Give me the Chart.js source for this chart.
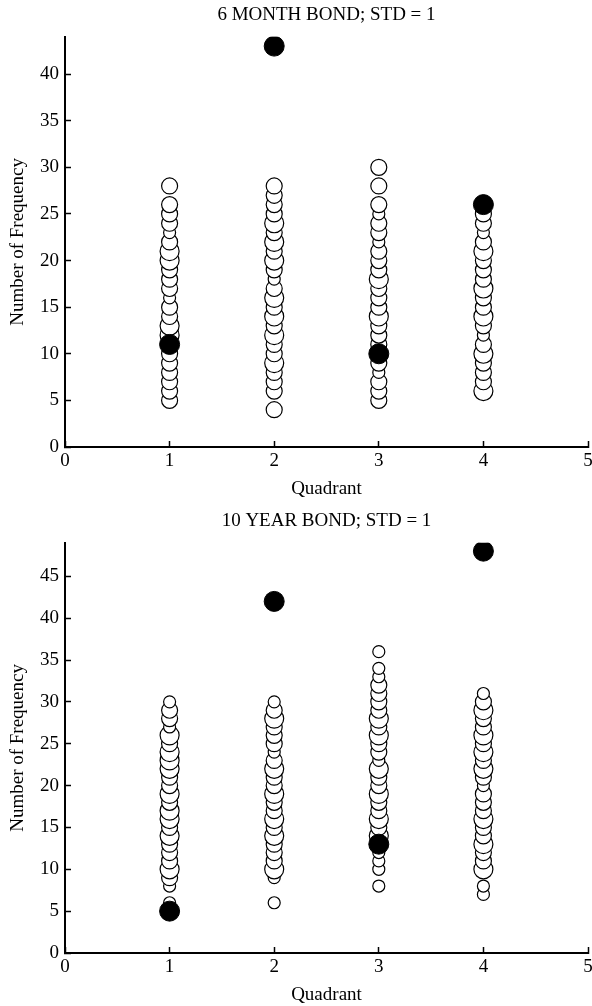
<!DOCTYPE html>
<html>
<head>
<meta charset="utf-8">
<title>Bond frequency by quadrant</title>
<script src="https://cdn.jsdelivr.net/npm/chart.js@4.4.1/dist/chart.umd.min.js"></script>
<style>
  html, body { margin: 0; padding: 0; background: #fff; }
  .plot { position: relative; width: 592px; }
  #box6m { height: 500px; }
  #box10y { height: 506px; }
</style>
</head>
<body>
<div class="plot" id="box6m"><canvas id="chart6m"></canvas></div>
<div class="plot" id="box10y"><canvas id="chart10y"></canvas></div>
<script>
// Categories / ticks
const quadrants = [1, 2, 3, 4];
const quadrantTicks = [0, 1, 2, 3, 4, 5];
const frequencyTicks = [0, 5, 10, 15, 20, 25, 30, 35, 40, 45];

// 6 month bond: frequencies per quadrant, bubble weight (1 small .. 3 large), filled outlier
const sixMonthFreq = [
  [5, 6, 7, 8, 9, 10, 11, 12, 13, 14, 15, 16, 17, 18, 19, 20, 21, 22, 23, 24, 25, 26, 28],
  [4, 6, 7, 8, 9, 10, 11, 12, 13, 14, 15, 16, 17, 18, 19, 20, 21, 22, 23, 24, 25, 26, 27, 28],
  [5, 6, 7, 8, 9, 11, 12, 13, 14, 15, 16, 17, 18, 19, 20, 21, 22, 23, 24, 25, 26, 28, 30],
  [6, 7, 8, 9, 10, 11, 12, 13, 14, 15, 16, 17, 18, 19, 20, 21, 22, 23, 24, 25]
];
const sixMonthWeight = [
  [2, 2, 2, 2, 2, 2, 2, 3, 3, 2, 2, 1, 2, 2, 2, 3, 3, 2, 1, 2, 2, 2, 2],
  [2, 2, 2, 2, 3, 2, 2, 3, 2, 3, 2, 3, 2, 1, 2, 3, 2, 3, 2, 3, 2, 2, 2, 2],
  [2, 2, 2, 1, 2, 2, 2, 2, 3, 2, 2, 2, 3, 2, 2, 2, 1, 2, 2, 1, 2, 2, 2],
  [3, 2, 2, 2, 3, 2, 1, 2, 3, 2, 2, 3, 2, 2, 2, 3, 2, 1, 2, 2]
];
const sixMonthMarked = [11, 43, 10, 26];
const sixMonthMax = 44;

// 10 year bond
const tenYearFreq = [
  [6, 8, 9, 10, 11, 12, 13, 14, 15, 16, 17, 18, 19, 20, 21, 22, 23, 24, 25, 26, 27, 28, 29, 30],
  [6, 9, 10, 11, 12, 13, 14, 15, 16, 17, 18, 19, 20, 21, 22, 23, 24, 25, 26, 27, 28, 29, 30],
  [8, 10, 11, 12, 14, 15, 16, 17, 18, 19, 20, 21, 22, 23, 24, 25, 26, 27, 28, 29, 30, 31, 32, 33, 34, 36],
  [7, 8, 10, 11, 12, 13, 14, 15, 16, 17, 18, 19, 20, 21, 22, 23, 24, 25, 26, 27, 28, 29, 30, 31]
];
const tenYearWeight = [
  [1, 1, 2, 3, 2, 2, 2, 3, 2, 3, 3, 2, 3, 2, 2, 3, 3, 3, 2, 3, 1, 2, 2, 1],
  [1, 1, 3, 2, 2, 2, 3, 2, 3, 2, 2, 3, 2, 2, 3, 2, 1, 2, 2, 2, 3, 2, 1],
  [1, 1, 1, 1, 3, 2, 3, 2, 2, 3, 2, 2, 3, 1, 2, 2, 3, 2, 3, 2, 2, 2, 2, 1, 1, 1],
  [1, 1, 3, 2, 2, 3, 2, 2, 3, 2, 2, 2, 1, 2, 3, 2, 3, 2, 3, 2, 2, 3, 2, 1]
];
const tenYearMarked = [5, 42, 13, 48];
const tenYearMax = 49;

Chart.defaults.font.family = "'Liberation Serif', 'DejaVu Serif', serif";
Chart.defaults.font.size = 19;
Chart.defaults.color = '#000';

const radiusByWeight = { 1: 6, 2: 8, 3: 9.5 };

function buildBubbles(freq, weight) {
  const pts = [];
  quadrants.forEach((q, i) => {
    freq[i].forEach((v, j) => {
      pts.push({ x: q, y: v, r: radiusByWeight[weight[i][j]] });
    });
  });
  return pts;
}

function makeChart(canvasId, titleText, freq, weight, marked, yMax, topPad) {
  const ctx = document.getElementById(canvasId).getContext('2d');
  return new Chart(ctx, {
    type: 'bubble',
    data: {
      datasets: [
        {
          // dataset 0 is painted last, so the filled dots sit on top
          label: 'marked',
          data: quadrants.map((q, i) => ({ x: q, y: marked[i], r: 10 })),
          backgroundColor: '#000',
          borderColor: '#000',
          borderWidth: 1
        },
        {
          label: 'frequency',
          data: buildBubbles(freq, weight),
          backgroundColor: '#fff',
          borderColor: '#000',
          borderWidth: 1.2
        }
      ]
    },
    options: {
      responsive: true,
      maintainAspectRatio: false,
      animation: false,
      events: [],
      layout: { autoPadding: false, padding: { top: topPad, right: 4, left: 0, bottom: 0 } },
      plugins: {
        legend: { display: false },
        tooltip: { enabled: false },
        title: {
          display: true,
          text: titleText,
          fullSize: false,
          color: '#000',
          font: { size: 19, weight: 'normal' },
          padding: { top: 4, bottom: 10 }
        }
      },
      scales: {
        x: {
          type: 'linear',
          position: 'bottom',
          min: 0,
          max: 5,
          afterBuildTicks: s => { s.ticks = quadrantTicks.map(v => ({ value: v })); },
          afterFit: s => { s.height = 53; s.paddingRight = 0; s.paddingLeft = 0; },
          grid: { drawOnChartArea: false, drawTicks: true, tickLength: -6, tickColor: '#000', tickWidth: 1.5 },
          border: { display: true, color: '#000', width: 2 },
          ticks: { padding: 9, color: '#000' },
          title: { display: true, text: 'Quadrant', color: '#000', padding: { top: 0, bottom: 0 } }
        },
        y: {
          type: 'linear',
          position: 'left',
          min: 0,
          max: yMax,
          afterBuildTicks: s => { s.ticks = frequencyTicks.filter(v => v <= yMax).map(v => ({ value: v })); },
          afterFit: s => { s.width = 65; },
          grid: { drawOnChartArea: false, drawTicks: true, tickLength: -6, tickColor: '#000', tickWidth: 1.5 },
          border: { display: true, color: '#000', width: 2 },
          ticks: { padding: 12, color: '#000' },
          title: { display: true, text: 'Number of Frequency', color: '#000', padding: { top: 7, bottom: 0 } }
        }
      }
    }
  });
}

document.addEventListener('DOMContentLoaded', () => {
  // 1. Six month bond
  makeChart('chart6m', '6 MONTH BOND; STD = 1', sixMonthFreq, sixMonthWeight, sixMonthMarked, sixMonthMax, 0);
  // 2. Ten year bond
  makeChart('chart10y', '10 YEAR BOND; STD = 1', tenYearFreq, tenYearWeight, tenYearMarked, tenYearMax, 6);
});
</script>
</body>
</html>
